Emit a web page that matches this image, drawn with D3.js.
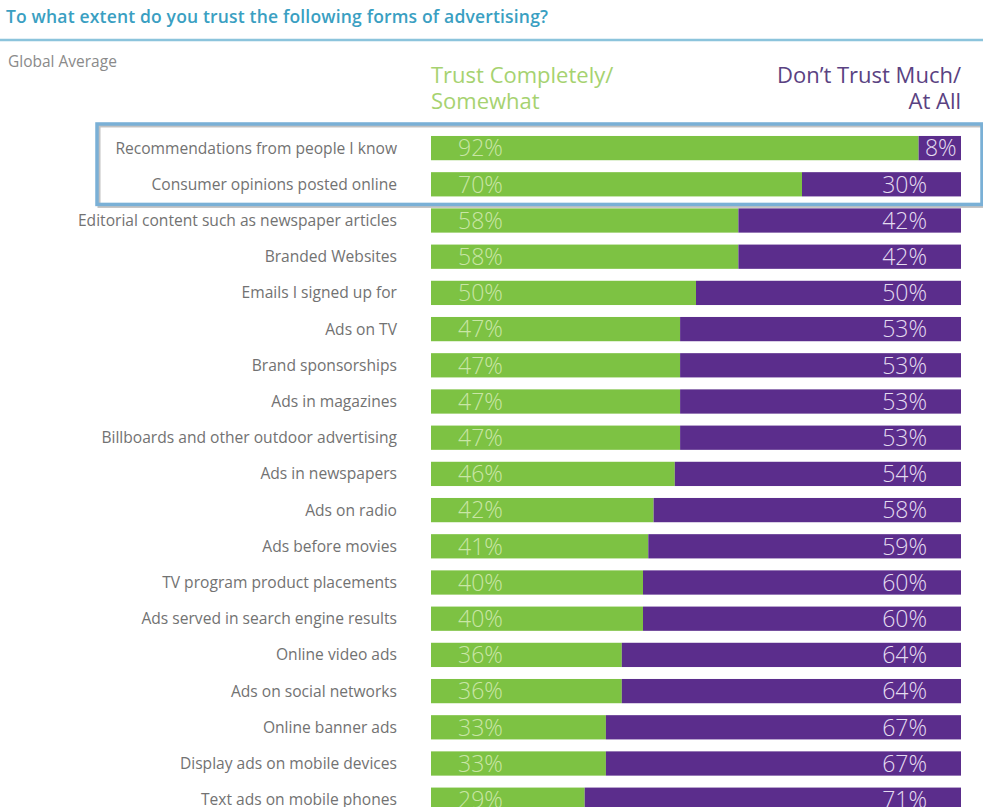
<!DOCTYPE html>
<html>
<head>
<meta charset="utf-8">
<script src="https://cdn.jsdelivr.net/npm/d3@7"></script>
<style>
  body { margin: 0; background: #fff; }
  svg { display: block; }
</style>
</head>
<body>
<svg class="chart" width="983" height="807"></svg>
<script>
const categories = [
  "Recommendations from people I know",
  "Consumer opinions posted online",
  "Editorial content such as newspaper articles",
  "Branded Websites",
  "Emails I signed up for",
  "Ads on TV",
  "Brand sponsorships",
  "Ads in magazines",
  "Billboards and other outdoor advertising",
  "Ads in newspapers",
  "Ads on radio",
  "Ads before movies",
  "TV program product placements",
  "Ads served in search engine results",
  "Online video ads",
  "Ads on social networks",
  "Online banner ads",
  "Display ads on mobile devices",
  "Text ads on mobile phones"
];
const trust = [92, 70, 58, 58, 50, 47, 47, 47, 47, 46, 42, 41, 40, 40, 36, 36, 33, 33, 29];
const distrust = [8, 30, 42, 42, 50, 53, 53, 53, 53, 54, 58, 59, 60, 60, 64, 64, 67, 67, 71];
const highlighted = ["Recommendations from people I know", "Consumer opinions posted online"];

const rows = categories.map((c, i) => ({ name: c, trust: trust[i], distrust: distrust[i] }));

const green = "#7dc243";
const purple = "#5b2d8c";
const font = "'Open Sans', sans-serif";

const svg = d3.select(".chart");

// header
svg.append("text")
  .attr("x", 6).attr("y", 23)
  .attr("font-family", font).attr("font-size", 17.5).attr("font-weight", 600)
  .attr("fill", "#3a9fc2")
  .attr("textLength", 542)
  .text("To what extent do you trust the following forms of advertising?");
svg.append("line")
  .attr("x1", 0).attr("x2", 983).attr("y1", 40).attr("y2", 40)
  .attr("stroke", "#8cc4dc").attr("stroke-width", 2.5);
svg.append("text")
  .attr("x", 8).attr("y", 67)
  .attr("font-family", font).attr("font-size", 15.5)
  .attr("fill", "#8a8a8a")
  .text("Global Average");

const x = d3.scaleLinear().domain([0, 100]).range([431, 961]);
const y = d3.scaleBand()
  .domain(categories)
  .range([130, 130 + categories.length * 36.2])
  .paddingInner(0.33)
  .paddingOuter(0.165);

// legend headers
const legTrust = svg.append("text")
  .attr("font-family", font).attr("font-size", 22)
  .attr("fill", "#a6d270");
legTrust.append("tspan").attr("x", x(0)).attr("y", 83).text("Trust Completely/");
legTrust.append("tspan").attr("x", x(0)).attr("y", 109).text("Somewhat");

const legDist = svg.append("text")
  .attr("font-family", font).attr("font-size", 22)
  .attr("fill", "#5a4282").attr("text-anchor", "end");
legDist.append("tspan").attr("x", x(100)).attr("y", 83).text("Don\u2019t Trust Much/");
legDist.append("tspan").attr("x", x(100)).attr("y", 109).text("At All");

const row = svg.selectAll(".row")
  .data(rows)
  .join("g")
  .attr("class", "row");

row.append("rect")
  .attr("x", x(0))
  .attr("y", (d) => y(d.name))
  .attr("width", (d) => x(d.trust) - x(0))
  .attr("height", y.bandwidth())
  .attr("fill", green);

row.append("rect")
  .attr("x", (d) => x(d.trust))
  .attr("y", (d) => y(d.name))
  .attr("width", (d) => x(100) - x(d.trust))
  .attr("height", y.bandwidth())
  .attr("fill", purple);

row.append("text")
  .attr("x", 397)
  .attr("y", (d) => y(d.name) + y.bandwidth() / 2)
  .attr("dy", "0.35em")
  .attr("text-anchor", "end")
  .attr("font-family", font).attr("font-size", 15.6)
  .attr("fill", "#727272")
  .text((d) => d.name);

row.append("text")
  .attr("x", x(0) + 27)
  .attr("y", (d) => y(d.name) + y.bandwidth() / 2)
  .attr("dy", "0.36em")
  .attr("font-family", font).attr("font-size", 23).attr("font-weight", 300)
  .attr("fill", "#c9e6a6")
  .text((d) => d.trust + "%");

// distrust labels sit at a common right edge unless the segment is too narrow
const labelW = 36;
row.append("text")
  .attr("x", (d) => Math.max(x(100) - 34, x(d.trust) + labelW + 2))
  .attr("y", (d) => y(d.name) + y.bandwidth() / 2)
  .attr("dy", "0.36em")
  .attr("text-anchor", "end")
  .attr("font-family", font).attr("font-size", 23).attr("font-weight", 300)
  .attr("fill", "#e4dcf0")
  .text((d) => d.distrust + "%");

// highlight box round the first two rows
const boxTop = y(highlighted[0]) - 12;
const boxBottom = y(highlighted[highlighted.length - 1]) + y.bandwidth() + 8;
svg.append("rect")
  .attr("x", 99).attr("y", boxTop + 2)
  .attr("width", 885).attr("height", boxBottom - boxTop)
  .attr("fill", "none")
  .attr("stroke", "#9a9a9a").attr("stroke-width", 3)
  .attr("opacity", 0.6);
svg.append("rect")
  .attr("x", 97).attr("y", boxTop)
  .attr("width", 885).attr("height", boxBottom - boxTop)
  .attr("fill", "none")
  .attr("stroke", "#7ab0d6").attr("stroke-width", 3.5);
</script>
</body>
</html>
